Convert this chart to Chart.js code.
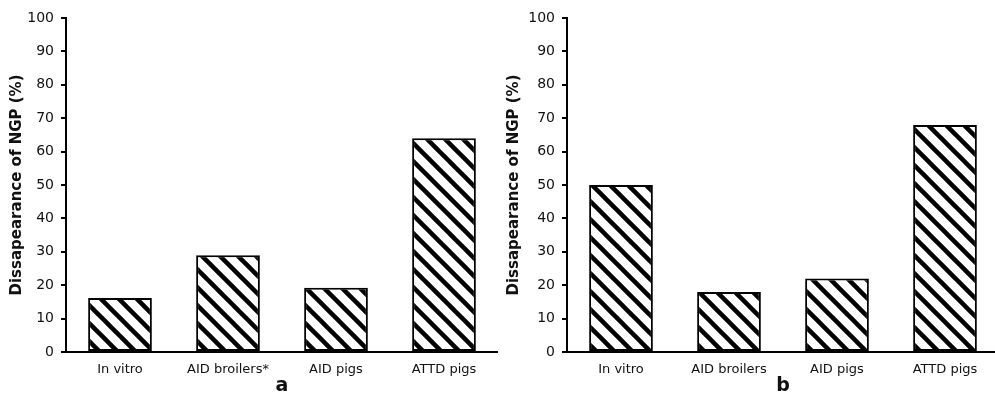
<!DOCTYPE html>
<html>
<head>
<meta charset="utf-8">
<script src="https://cdn.jsdelivr.net/npm/chart.js@4.4.1/dist/chart.umd.min.js"></script>
<style>
  html, body { margin: 0; padding: 0; background: #fff; overflow: hidden; }
  #wrap { position: relative; width: 995px; height: 395px; }
  .panel { position: absolute; top: 0; height: 395px; }
  #panelA { left: 0; width: 498px; }
  #panelB { left: 497px; width: 502px; }
</style>
</head>
<body>
<div id="wrap">
  <div class="panel" id="panelA"><canvas id="chartA"></canvas></div>
  <div class="panel" id="panelB"><canvas id="chartB"></canvas></div>
</div>
<script>
  // ---- data ----
  const categoriesA = ["In vitro", "AID broilers*", "AID pigs", "ATTD pigs"];
  const categoriesB = ["In vitro", "AID broilers", "AID pigs", "ATTD pigs"];
  const valuesA = [16.2, 29, 19.2, 64];
  const valuesB = [50, 18, 22, 68];
  const yTitle = "Dissapearance of NGP (%)";

  const FONT = "'DejaVu Sans', Verdana, sans-serif";

  // diagonal hatch like the original fill
  function makeHatch() {
    const s = 18;
    const c = document.createElement("canvas");
    c.width = s;
    c.height = s;
    const g = c.getContext("2d");
    g.fillStyle = "#fff";
    g.fillRect(0, 0, s, s);
    g.strokeStyle = "#000";
    g.lineWidth = 4.5;
    for (let k = -1; k <= 1; k++) {
      g.beginPath();
      g.moveTo(k * s - 2, -2);
      g.lineTo(k * s + s + 2, s + 2);
      g.stroke();
    }
    return g.createPattern(c, "repeat");
  }

  function buildChart(canvasId, labels, values, letter, yWidth) {
    const ctx = document.getElementById(canvasId).getContext("2d");
    return new Chart(ctx, {
      type: "bar",
      data: {
        labels: labels,
        datasets: [
          {
            data: values,
            backgroundColor: makeHatch(),
            borderColor: "#000",
            borderWidth: 2,
            borderSkipped: false,
            barPercentage: 0.59,
            categoryPercentage: 1,
          },
        ],
      },
      options: {
        responsive: true,
        maintainAspectRatio: false,
        animation: false,
        layout: { padding: { top: 18, right: 0, left: 0, bottom: 0 } },
        plugins: {
          legend: { display: false },
          tooltip: { enabled: false },
        },
        scales: {
          x: {
            grid: { display: false, drawTicks: false },
            border: { display: true, color: "#000", width: 2 },
            ticks: {
              color: "#111",
              padding: 10,
              font: { family: FONT, size: 13 },
            },
            title: {
              display: true,
              text: letter,
              color: "#111",
              font: { family: FONT, size: 19, weight: "bold" },
              padding: { top: 0, bottom: -2 },
            },
            afterFit: (s) => { s.height = 43; },
          },
          y: {
            min: 0,
            max: 100,
            ticks: {
              stepSize: 10,
              color: "#111",
              padding: 7,
              font: { family: FONT, size: 14 },
            },
            grid: {
              drawOnChartArea: false,
              drawTicks: true,
              tickLength: 5,
              color: "#000",
              lineWidth: 2,
            },
            border: { display: true, color: "#000", width: 2 },
            title: {
              display: true,
              text: yTitle,
              color: "#111",
              font: { family: FONT, size: 15, weight: "bold" },
              padding: { top: 8, bottom: 0 },
            },
            afterFit: (s) => { s.width = yWidth; },
          },
        },
      },
    });
  }

  buildChart("chartA", categoriesA, valuesA, "a", 66);
  buildChart("chartB", categoriesB, valuesB, "b", 70);
</script>
</body>
</html>
